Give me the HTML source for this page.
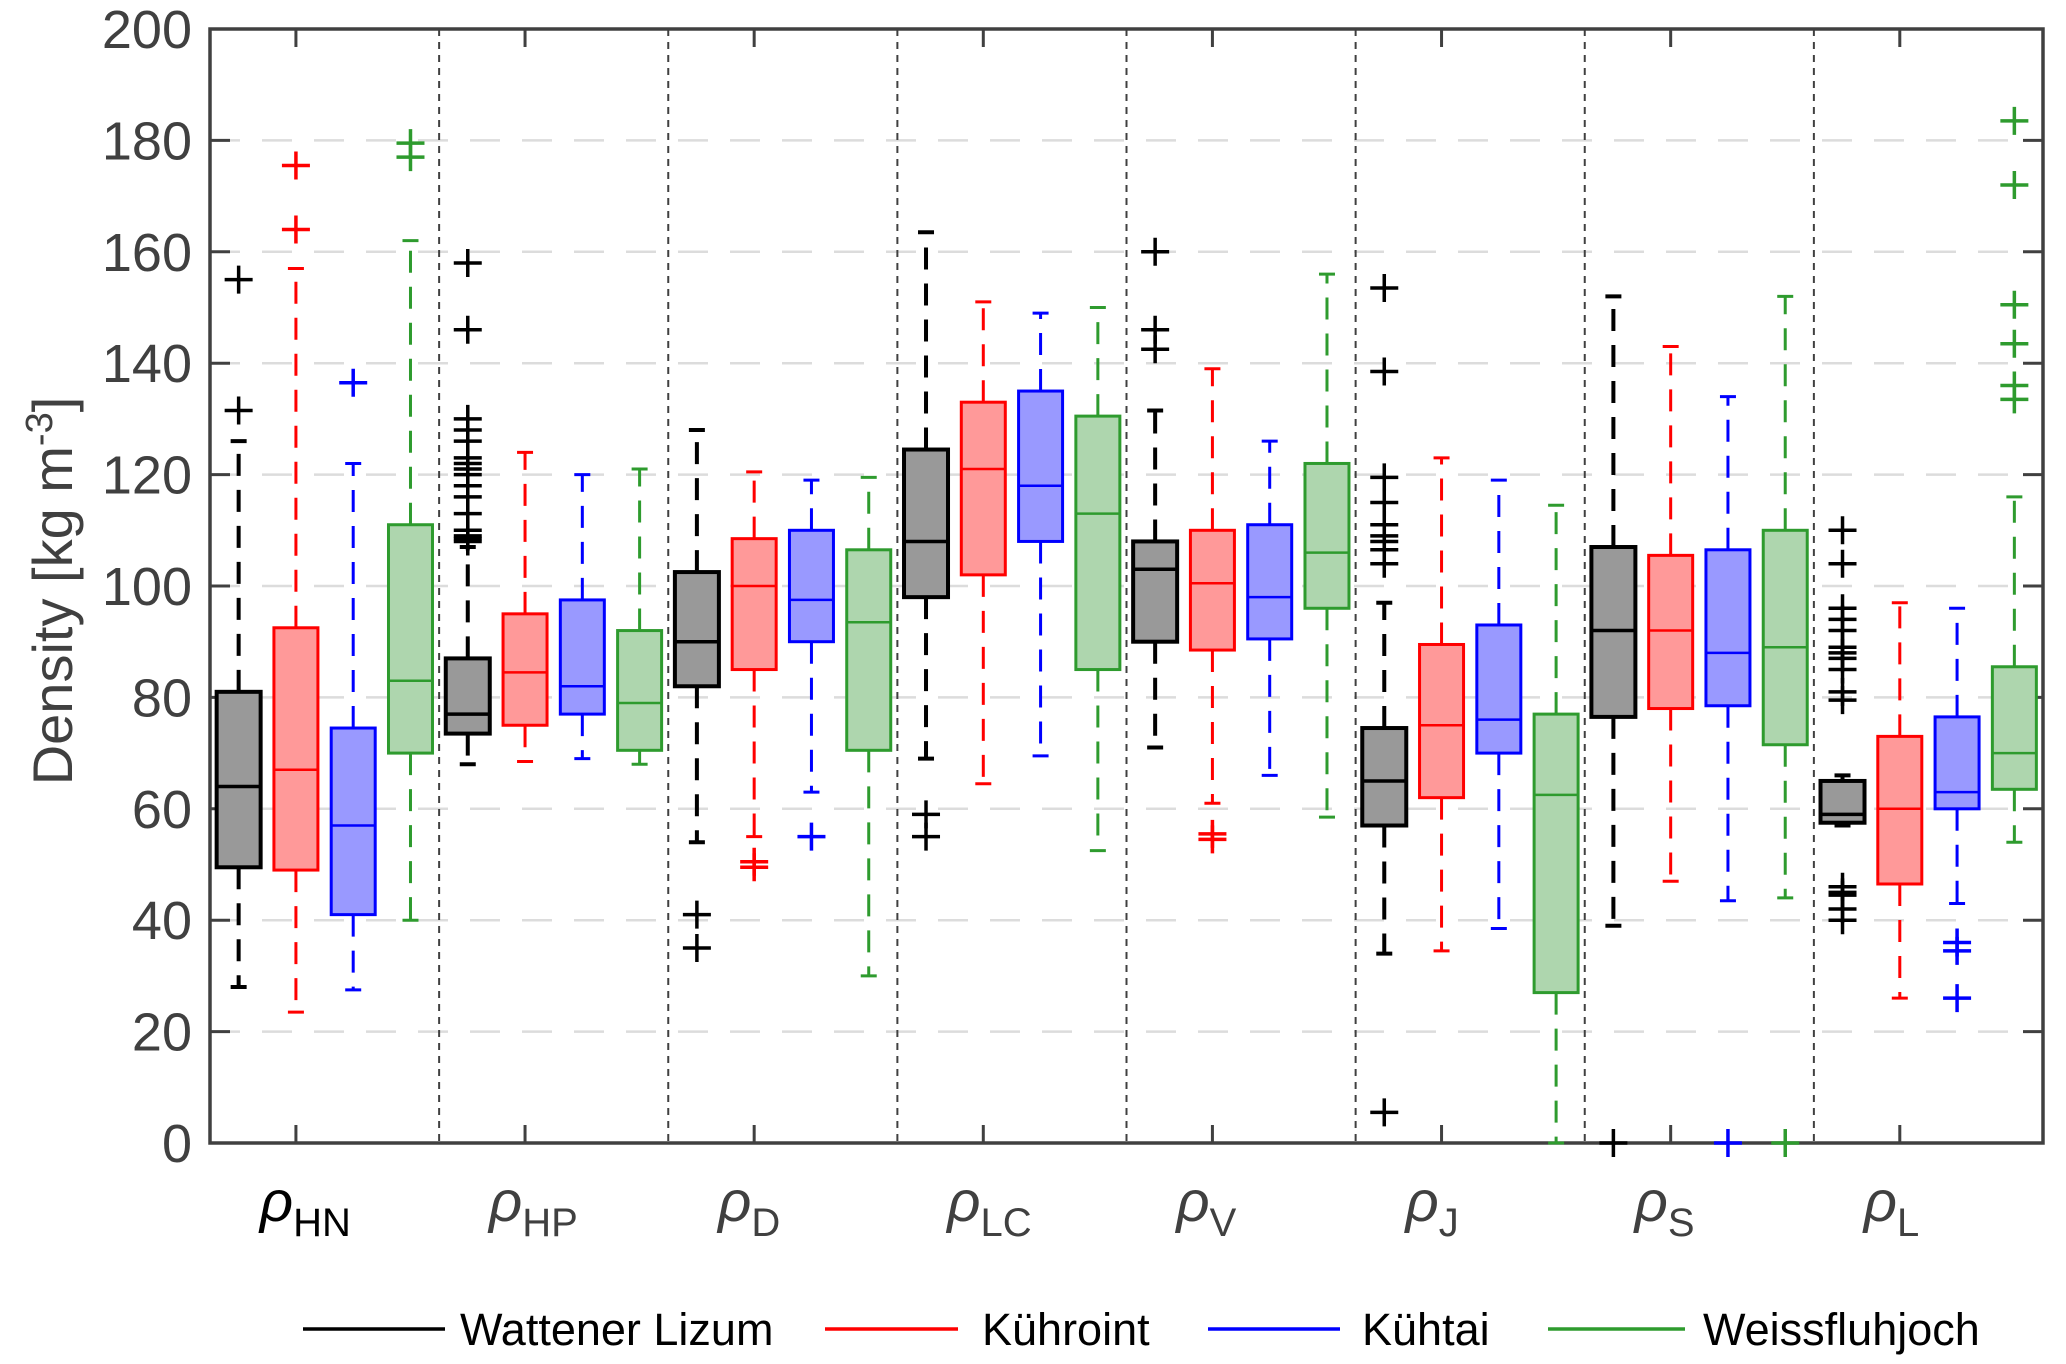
<!DOCTYPE html>
<html><head><meta charset="utf-8"><style>
html,body{margin:0;padding:0;background:#fff;}
svg{display:block;font-family:"Liberation Sans",Arial,sans-serif;}
</style></head><body>
<svg id="chart" width="2066" height="1364" viewBox="0 0 2066 1364" xmlns="http://www.w3.org/2000/svg"></svg>
<script>
const categories = ["HN","HP","D","LC","V","J","S","L"];
const sites = ["Wattener Lizum","Kühroint","Kühtai","Weissfluhjoch"];
const yTicks = [0,20,40,60,80,100,120,140,160,180,200];
// each box: [lowWhisker, q1, median, q3, highWhisker]
const wattenerStats = [[28,49.5,64,81,126],[68,73.5,77,87,107],[54,82,90,102.5,128],[69,98,108,124.5,163.5],[71,90,103,108,131.5],[34,57,65,74.5,97],[39,76.5,92,107,152],[57,57.5,59,65,66]];
const kuehrointStats = [[23.5,49,67,92.5,157],[68.5,75,84.5,95,124],[55,85,100,108.5,120.5],[64.5,102,121,133,151],[61,88.5,100.5,110,139],[34.5,62,75,89.5,123],[47,78,92,105.5,143],[26,46.5,60,73,97]];
const kuehtaiStats = [[27.5,41,57,74.5,122],[69,77,82,97.5,120],[63,90,97.5,110,119],[69.5,108,118,135,149],[66,90.5,98,111,126],[38.5,70,76,93,119],[43.5,78.5,88,106.5,134],[43,60,63,76.5,96]];
const weissStats = [[40,70,83,111,162],[68,70.5,79,92,121],[30,70.5,93.5,106.5,119.5],[52.5,85,113,130.5,150],[58.5,96,106,122,156],[0,27,62.5,77,114.5],[44,71.5,89,110,152],[54,63.5,70,85.5,116]];
const wattenerOut = [[131.5,155],[108,108.5,109,110,113,116,118,120,121,122,123,126,128,130,146,158],[35,41],[55,59],[142.5,146,160],[5.5,104,106.5,108,109,111,115,119.5,138.5,153.5],[0],[40,42,44.5,45,46,79.5,81,85,87,88,89,92,94,96,104,110]];
const kuehrointOut = [[164,175.5],[],[49.5,50.5],[],[54.5,55.5],[],[],[]];
const kuehtaiOut = [[136.5],[],[55],[],[],[],[0],[26,34.5,36]];
const weissOut = [[177,179.5],[],[],[],[],[],[0],[133.5,136,143.5,150.5,172,183.5]];

const NS="http://www.w3.org/2000/svg";
const svg=document.getElementById('chart');
const L=210,R=2043,T=29,B=1143;
const yS=v=>B-(v/200)*(B-T);
const slot=(R-L)/32;
const xS=(g,s)=>L+slot*(g*4+s+0.5);
const strokeC=["#000000","#ff0000","#0000ff","#2e9b2e"];
const fillC=["#999999","#ff9999","#9999ff","#aed6ae"];
const stats=[wattenerStats,kuehrointStats,kuehtaiStats,weissStats];
const outs=[wattenerOut,kuehrointOut,kuehtaiOut,weissOut];
function mk(tag,attrs,parent){const e=document.createElementNS(NS,tag);for(const k in attrs)e.setAttribute(k,attrs[k]);(parent||svg).appendChild(e);return e;}

// grid
const grid=mk('g',{});


yTicks.forEach(v=>{if(v>0&&v<200){const l=mk('line',{x1:L,x2:R,y1:yS(v),y2:yS(v),stroke:'#dcdcdc','stroke-width':2.5,'stroke-dasharray':'30 22'},grid);

}});
// group dividers
for(let k=1;k<8;k++){const x=L+slot*4*k;const l=mk('line',{x1:x,x2:x,y1:T,y2:B,stroke:'#404040','stroke-width':2,'stroke-dasharray':'7 6'});

}

// axes frame (drawn below marks)
const ax=mk('rect',{x:L,y:T,width:R-L,height:B-T,fill:'none',stroke:'#404040','stroke-width':3.5});


yTicks.forEach(v=>{const y=yS(v);
 mk('line',{x1:L,x2:L+20,y1:y,y2:y,stroke:'#404040','stroke-width':3});
 mk('line',{x1:R-20,x2:R,y1:y,y2:y,stroke:'#404040','stroke-width':3});
 const t=mk('text',{x:L-18,y:y+19,'text-anchor':'end','font-size':54,fill:'#404040'});t.textContent=v;
 
 });

// boxes
for(let s=0;s<4;s++){
 const sg=mk('g',{});
 
 
 const sw=s===0?4:3;
 for(let g=0;g<8;g++){
  const d=stats[s][g];const x=xS(g,s);const bw=44,cw=16;
  const bg=mk('g',{},sg);
  
  
  mk('line',{x1:x,x2:x,y1:yS(d[3]),y2:yS(d[4]),stroke:strokeC[s],'stroke-width':sw,'stroke-dasharray':'22 14'},bg);
  mk('line',{x1:x,x2:x,y1:yS(d[1]),y2:yS(d[0]),stroke:strokeC[s],'stroke-width':sw,'stroke-dasharray':'22 14'},bg);
  mk('line',{x1:x-cw/2,x2:x+cw/2,y1:yS(d[4]),y2:yS(d[4]),stroke:strokeC[s],'stroke-width':sw},bg);
  mk('line',{x1:x-cw/2,x2:x+cw/2,y1:yS(d[0]),y2:yS(d[0]),stroke:strokeC[s],'stroke-width':sw},bg);
  mk('rect',{x:x-bw/2,y:yS(d[3]),width:bw,height:yS(d[1])-yS(d[3]),fill:fillC[s],stroke:strokeC[s],'stroke-width':sw},bg);
  mk('line',{x1:x-bw/2,x2:x+bw/2,y1:yS(d[2]),y2:yS(d[2]),stroke:strokeC[s],'stroke-width':sw-0.5},bg);
  outs[s][g].forEach(v=>{const y=yS(v);
   const p=mk('path',{d:`M${x-14},${y}H${x+14}M${x},${y-14}V${y+14}`,stroke:strokeC[s],'stroke-width':3.5,fill:'none'},bg);
   
   });
 }
}

// x ticks and labels
categories.forEach((c,g)=>{const x=xS(g,1);
 mk('line',{x1:x,x2:x,y1:B,y2:B-18,stroke:'#404040','stroke-width':3});
 mk('line',{x1:x,x2:x,y1:T,y2:T+18,stroke:'#404040','stroke-width':3});
 const t=mk('text',{x:x-36,y:1221,'font-size':58,fill:g===0?'#000':'#404040'});
 
 
 const a=mk('tspan',{'font-style':'italic'},t);a.textContent='ρ';
 const b=mk('tspan',{'font-size':40,dy:15},t);b.textContent=c;});
// y title
const yt=mk('text',{transform:'translate(72,591) rotate(-90)','text-anchor':'middle','font-size':56,fill:'#404040'});


yt.appendChild(document.createTextNode('Density [kg m'));
const sup=mk('tspan',{'font-size':38,dy:-20},yt);sup.textContent='-3';
const cl=mk('tspan',{dy:20},yt);cl.textContent=']';
// legend
const lx=[[303,445,460],[825,958,982],[1208,1340,1362],[1548,1685,1703]];
const lg=mk('g',{});


sites.forEach((n,i)=>{const e=mk('g',{},lg);
 
 
 mk('line',{x1:lx[i][0],x2:lx[i][1],y1:1329,y2:1329,stroke:strokeC[i],'stroke-width':3.5},e);
 const t=mk('text',{x:lx[i][2],y:1345,'font-size':45,fill:'#000'},e);t.textContent=n;});
</script>
</body></html>
